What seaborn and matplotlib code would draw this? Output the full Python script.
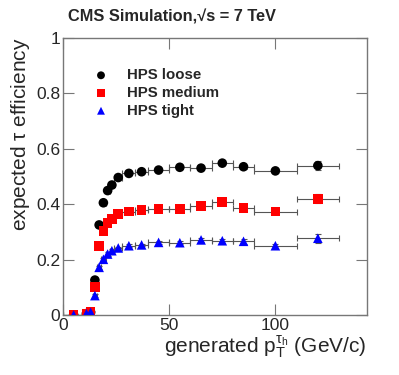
import numpy as np
import pandas as pd
import matplotlib
matplotlib.use("Agg")
import matplotlib.pyplot as plt
import seaborn as sns

# bin centres and half widths in generated tau pT (GeV/c)
pt = [5, 11, 13, 15, 17, 19, 21, 23, 26, 31, 37, 45, 55, 65, 75, 85, 100, 120]
pt_err = [5, 1, 1, 1, 1, 1, 1, 1, 2, 3, 3, 5, 5, 5, 5, 5, 10, 10]

eff_loose = [0.0, 0.005, 0.01, 0.126, 0.325, 0.405, 0.449, 0.469, 0.496,
             0.511, 0.517, 0.523, 0.533, 0.530, 0.548, 0.535, 0.520, 0.539]
eff_medium = [0.0, 0.005, 0.01, 0.100, 0.250, 0.303, 0.331, 0.347, 0.365,
              0.373, 0.378, 0.383, 0.383, 0.393, 0.407, 0.385, 0.373, 0.419]
eff_tight = [0.0, 0.005, 0.01, 0.070, 0.172, 0.201, 0.220, 0.232, 0.242,
             0.250, 0.253, 0.262, 0.261, 0.271, 0.268, 0.266, 0.250, 0.277]
eff_err = [0.002, 0.003, 0.003, 0.005, 0.006, 0.006, 0.006, 0.006, 0.005,
           0.005, 0.005, 0.005, 0.005, 0.006, 0.007, 0.008, 0.008, 0.016]

labels = ["HPS loose", "HPS medium", "HPS tight"]
series = [eff_loose, eff_medium, eff_tight]
colors = ["black", "#ff0000", "#0000ff"]
markers = ["o", "s", "^"]

rows = []
for lab, vals in zip(labels, series):
    for x, xe, y, ye in zip(pt, pt_err, vals, eff_err):
        rows.append({"pt": x, "pt_err": xe, "eff": y, "eff_err": ye, "wp": lab})
df = pd.DataFrame(rows)

sns.set_style("ticks")
plt.rcParams["font.family"] = ["Liberation Sans", "DejaVu Sans"]
plt.rcParams["mathtext.fontset"] = "custom"
plt.rcParams["mathtext.rm"] = "Liberation Sans"
plt.rcParams["mathtext.it"] = "Liberation Sans"
plt.rcParams["mathtext.bf"] = "Liberation Sans:bold"

fig = plt.figure(figsize=(3.99, 3.75), dpi=100)
ax = fig.add_axes([0.158, 0.16, 0.761, 0.739])

# error bars first, markers on top
for lab in labels:
    d = df[df["wp"] == lab]
    ax.errorbar(d["pt"], d["eff"], xerr=d["pt_err"], yerr=d["eff_err"],
                fmt="none", ecolor="#555555", elinewidth=0.8, capsize=2,
                capthick=0.8, zorder=1)

sns.scatterplot(data=df, x="pt", y="eff", hue="wp", style="wp",
                hue_order=labels, style_order=labels,
                palette=colors, markers=markers, s=48, edgecolor="none",
                ax=ax, zorder=3, legend=False)

ax.set_xlim(0, 143)
ax.set_ylim(0, 1)
ax.set_xticks([0, 50, 100])
ax.set_yticks([0, 0.2, 0.4, 0.6, 0.8, 1.0])
ax.set_yticklabels(["0", "0.2", "0.4", "0.6", "0.8", "1"])
ax.tick_params(direction="in", top=True, right=True, length=8, width=0.8,
               color="#777777", labelsize=12.5, pad=2)
for sp in ax.spines.values():
    sp.set_color("#777777")
    sp.set_linewidth(1.0)

ax.set_xlabel(r"generated p$_\mathrm{T}^{\tau_\mathrm{h}}$ (GeV/c)",
              fontsize=15, loc="right", labelpad=1)
ax.set_ylabel(r"expected $\tau$ efficiency", fontsize=15, loc="top",
              labelpad=3)

fig.text(0.17, 0.935, "CMS Simulation,\u221as = 7 TeV",
         fontsize=11.8, fontweight="bold", ha="left", va="bottom")

# legend drawn by hand in axes coordinates
for i, (lab, c, m) in enumerate(zip(labels, colors, markers)):
    yy = 0.865 - i * 0.064
    ax.scatter([0.125], [yy], transform=ax.transAxes, color=c, marker=m,
               s=32, edgecolor="none", zorder=4)
    ax.text(0.21, yy, lab, transform=ax.transAxes, fontsize=10.8,
            fontweight="bold", va="center", ha="left")

fig.savefig("out.png", dpi=100)
